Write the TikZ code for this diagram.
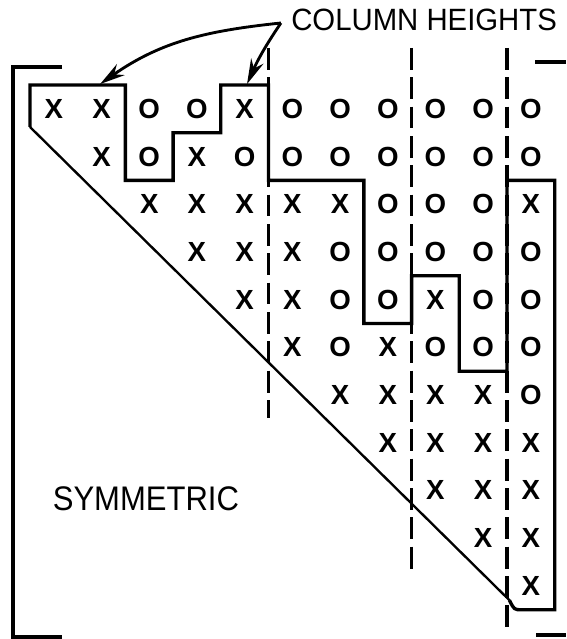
\documentclass[tikz,border=0pt]{standalone}
\usepackage{fontspec}
\setmainfont{Liberation Sans}
\usepackage{tikz}
\usetikzlibrary{calc, arrows.meta, positioning}

\begin{document}
\begin{tikzpicture}[>={Stealth[length=15pt,width=8pt]},
    entry/.style={inner sep=0pt, font=\fontsize{16.5}{17}\selectfont\bfseries},
    lettering/.style={inner sep=0pt, font=\fontsize{17.5}{18}\selectfont},
    envelope/.style={line width=2pt, line join=miter},
    diagonal/.style={line width=1.4pt},
    blockline/.style={line width=2pt, dash pattern=on 13pt off 4.5pt},
    bracket/.style={line width=2.5pt},
    pointer/.style={->, line width=1.7pt}]

    \useasboundingbox (-0.629,-11.614) rectangle (11.237,1.782);

    % Klammern der Matrix
    \draw[bracket] (0.671,0.377) -- (-0.356,0.377) -- (-0.356,-11.572) -- (0.671,-11.572);
    \draw[bracket] (10.587,0.482) -- (11.237,0.482);
    \draw[bracket] (10.608,-11.53) -- (11.237,-11.53);

    % Huellkurve (Spaltenhoehen) und Diagonale
    \draw[envelope] (0,-0.88) -- (0,0) -- (2,0) -- (2,-2) -- (3,-2) -- (3,-1)
        -- (4,-1) -- (4,0) -- (5,0) -- (5,-2) -- (7,-2) -- (7,-5) -- (8,-5)
        -- (8,-4) -- (9,-4) -- (9,-6) -- (10,-6) -- (10,-2) -- (11,-2)
        -- (11,-11) -- (10.3,-11) .. controls (10.15,-11) .. (10.05,-10.8);
    \draw[diagonal] (10.05,-10.8) -- (0,-0.88);

    % Blockgrenzen (gestrichelt)
    \draw[blockline] (5,0.776) -- (5,-6.98);
    \draw[blockline] (8,0.776) -- (8,-10.21);
    \draw[blockline] (10,0.776) -- (10,-11.38);

    % Eintraege der oberen Dreiecksmatrix
    \foreach \row [count=\i] in {{X,X,O,O,X,O,O,O,O,O,O},
                                 {X,O,X,O,O,O,O,O,O,O},
                                 {X,X,X,X,X,O,O,O,X},
                                 {X,X,X,O,O,O,O,O},
                                 {X,X,O,O,X,O,O},
                                 {X,O,X,O,O,O},
                                 {X,X,X,X,O},
                                 {X,X,X,X},
                                 {X,X,X},
                                 {X,X},
                                 {X}}
        \foreach \e [count=\k] in \row {
            \pgfmathtruncatemacro\j{\i+\k-1}
            \node[entry] (m-\i-\j) at (\j-0.5,0.5-\i) {\e};
        }

    % Beschriftungen
    \node[lettering, anchor=west] (hl) at (5.47,1.36) {\scalebox{1}[1.05]{COLUMN HEIGHTS}};
    \node[lettering, font=\fontsize{18.5}{19}\selectfont] (sym) at (2.43,-8.68) {\scalebox{1}[1.1]{SYMMETRIC}};

    % Pfeile auf die Spaltenhoehen
    \coordinate (hs) at ($(hl.west)+(-0.21,-0.06)$);
    \coordinate (t1) at (1.47,0.02);
    \coordinate (t2) at (4.55,0.02);
    \draw[pointer] (hs) to[out=186,in=35] (t1);
    \draw[pointer] (hs) to[bend right=5] (t2);
\end{tikzpicture}
\end{document}
